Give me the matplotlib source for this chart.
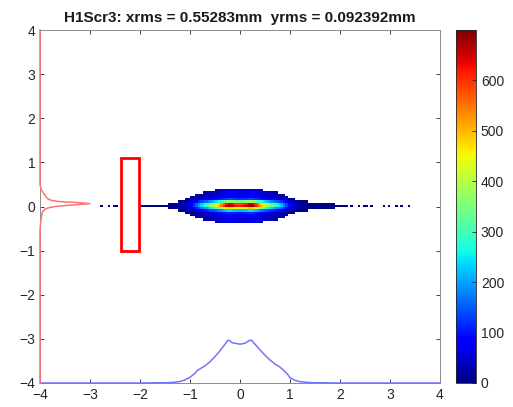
import numpy as np
import matplotlib.pyplot as plt
from matplotlib.patches import Rectangle

plt.rcParams['font.family'] = ['Liberation Sans', 'DejaVu Sans']

title = 'H1Scr3: xrms = 0.55283mm  yrms = 0.092392mm'

# screen image, bins of 0.05 mm; the spot core row starts at x = -2.0
core_x0 = -2.0
core_counts = [2, 2, 2, 3, 3, 3, 4, 4, 5, 6,
               7, 8, 10, 12, 15, 20, 27, 36, 48, 65,
               85, 120, 160, 200, 240, 265, 295, 330, 370, 410,
               455, 500, 545, 600, 650, 690, 670, 640, 625, 615,
               620, 635, 655, 685, 695, 660, 610, 555, 500, 455,
               410, 370, 335, 305, 280, 255, 225, 180, 140, 100,
               70, 50, 37, 28, 22, 17, 14, 11, 9, 8,
               7, 6, 5, 4, 4, 3, 3, 3, 2, 2,
               2, 2]
# vertical half size of the spot for each x bin (mm)
half_height = [0.02] * 10 + [
    0.04, 0.06, 0.06, 0.06, 0.08, 0.10, 0.11, 0.13, 0.15, 0.17,
    0.20, 0.23, 0.26, 0.27, 0.29, 0.30, 0.31, 0.33, 0.33, 0.34] + [0.36] * 17 + [
    0.35, 0.35, 0.34, 0.34, 0.33, 0.32, 0.31, 0.30, 0.29, 0.27,
    0.25, 0.22, 0.19, 0.17, 0.15, 0.13, 0.12, 0.11, 0.10, 0.10,
    0.08, 0.08, 0.07, 0.06, 0.06, 0.06, 0.06, 0.06, 0.06, 0.06,
    0.06, 0.04, 0.02, 0.02, 0.02]
# relative vertical profile of a column
row_y = [-0.35, -0.30, -0.25, -0.20, -0.15, -0.10, -0.05, 0.0,
         0.05, 0.10, 0.15, 0.20, 0.25, 0.30, 0.35]
row_shape = [0.09, 0.10, 0.11, 0.12, 0.17, 0.35, 0.70, 1.0,
             0.95, 0.55, 0.20, 0.13, 0.11, 0.10, 0.09]
# isolated single hits on the core row
stray_x = [-2.75, -2.6, -2.55, -2.45, 2.15, 2.2, 2.25, 2.4, 2.45,
           2.55, 2.6, 2.9, 3.0, 3.1, 3.2, 3.35]

# projections drawn on the axes edges
xproj_x = [-4, -2.0, -1.6, -1.4, -1.3, -1.2, -1.1, -1.0, -0.9, -0.85, -0.8,
           -0.7, -0.6, -0.5, -0.4, -0.3, -0.25, -0.22, -0.15, -0.05, 0.0,
           0.1, 0.18, 0.23, 0.3, 0.4, 0.5, 0.6, 0.7, 0.8, 0.87, 0.95, 1.0,
           1.1, 1.2, 1.4, 1.6, 2.0, 4]
xproj_h = [0, 0, 0.005, 0.01, 0.02, 0.035, 0.07, 0.13, 0.22, 0.29, 0.32,
           0.39, 0.48, 0.60, 0.73, 0.88, 0.96, 0.97, 0.91, 0.89, 0.88,
           0.90, 0.96, 0.97, 0.88, 0.75, 0.63, 0.52, 0.43, 0.36, 0.29, 0.20, 0.12,
           0.06, 0.03, 0.01, 0.005, 0, 0]
yproj_y = [-4, -0.55, -0.4, -0.3, -0.2, -0.12, -0.06, -0.03, 0.0, 0.03,
           0.065, 0.09, 0.11, 0.14, 0.18, 0.25, 0.32, 0.40, 0.5, 4]
yproj_h = [0, 0, 0.01, 0.02, 0.035, 0.05, 0.10, 0.17, 0.30, 0.60,
           1.0, 0.75, 0.40, 0.22, 0.15, 0.10, 0.06, 0.02, 0, 0]

roi = (-2.38, -1.0, 0.36, 2.1)   # x, y, width, height


def build_image():
    step = 0.05
    x_lo, x_hi = -2.8, 3.45
    ncol = int(round((x_hi - x_lo) / step))
    img = np.zeros((len(row_y), ncol))
    y = np.array(row_y)
    shape = np.array(row_shape)
    c0 = int(round((core_x0 - x_lo) / step))
    for j, (cnt, hh) in enumerate(zip(core_counts, half_height)):
        inside = np.abs(y) <= hh + 1e-9
        img[inside, c0 + j] = cnt * shape[inside]
    r0 = row_y.index(0.0)
    for xs in stray_x:
        img[r0, int((xs - x_lo) / step)] = 1
    img = np.ma.masked_less(img, 0.5)
    extent = (x_lo, x_hi, row_y[0] - step / 2, row_y[-1] + step / 2)
    return img, extent


img, extent = build_image()

fig = plt.figure(figsize=(5.13, 4.07), dpi=100)
ax = fig.add_axes([40 / 513, 24 / 407, 400 / 513, 353 / 407])

im = ax.imshow(img, cmap='jet', vmin=0, vmax=700, origin='lower',
               extent=extent, aspect='auto', interpolation='nearest')

ax.plot(np.array(xproj_x), -4 + np.array(xproj_h), color=(0.45, 0.45, 1.0),
        lw=1.1, clip_on=False, zorder=4)
ax.plot(-4 + np.array(yproj_h), np.array(yproj_y), color=(1.0, 0.45, 0.45),
        lw=1.1, clip_on=False, zorder=4)
ax.add_patch(Rectangle(roi[:2], roi[2], roi[3], fill=False, edgecolor='red', lw=2))

ax.set_xlim(-4, 4)
ax.set_ylim(-4, 4)
ax.set_xticks(range(-4, 5))
ax.set_yticks(range(-4, 5))
ax.tick_params(direction='in', top=True, right=True, length=3, width=0.6,
               labelsize=10, colors='#262626')
for s in ax.spines.values():
    s.set_color('#8c8c8c')
    s.set_linewidth(0.7)
ax.set_title(title, fontsize=11, fontweight='bold', pad=6, color='#1a1a1a')

cax = fig.add_axes([456 / 513, 24 / 407, 20 / 513, 353 / 407])
cb = fig.colorbar(im, cax=cax, ticks=range(0, 700, 100))
cb.ax.tick_params(direction='in', length=3, width=0.6, labelsize=10, colors='#262626')
cb.outline.set_linewidth(0.6)
cb.outline.set_edgecolor('#262626')

fig.savefig('out.png', dpi=100)
